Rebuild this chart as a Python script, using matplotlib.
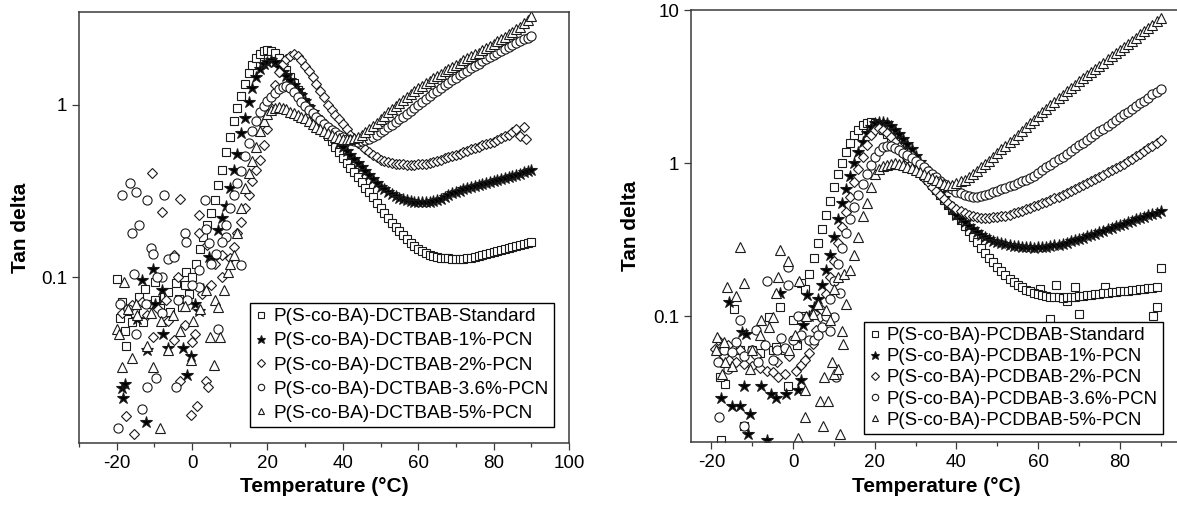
import matplotlib
matplotlib.use("Agg")
import matplotlib.pyplot as plt
from matplotlib.lines import Line2D
from matplotlib.ticker import FixedLocator, NullLocator, FixedFormatter

plt.rcParams['font.family'] = ['Liberation Sans', 'DejaVu Sans']
plt.rcParams['axes.unicode_minus'] = False

# Each series: {temperature (°C): tan delta}.
# ---------------- LEFT PANEL (DCTBAB) ----------------
left_labels = ['P(S-co-BA)-DCTBAB-Standard', 'P(S-co-BA)-DCTBAB-1%-PCN',
               'P(S-co-BA)-DCTBAB-2%-PCN', 'P(S-co-BA)-DCTBAB-3.6%-PCN',
               'P(S-co-BA)-DCTBAB-5%-PCN']

left_std_scatter = {
    -19.9: 0.098, -19.0: 0.058, -18.7: 0.072, -17.7: 0.049, -17.6: 0.040,
    -17.2: 0.064, -16.0: 0.055, -15.2: 0.062, -14.0: 0.077, -13.0: 0.055,
    -12.4: 0.085, -11.0: 0.070, -9.9: 0.094, -9.8: 0.074, -8.5: 0.066,
    -7.4: 0.077, -6.5: 0.082, -5.8: 0.063, -4.3: 0.092, -3.5: 0.075,
    -2.8: 0.067, -2.0: 0.090, -1.5: 0.107, -0.8: 0.080}
left_std_curve = {
    0: 0.100, 1: 0.120, 2: 0.145, 3: 0.170, 4: 0.200, 5: 0.235, 6: 0.280, 7: 0.340, 8: 0.420, 9: 0.530,
    10: 0.650, 11: 0.800, 12: 0.950, 13: 1.120, 14: 1.320, 15: 1.520, 16: 1.700, 17: 1.850, 18: 1.960, 19: 2.030,
    20: 2.060, 21: 2.050, 22: 1.980, 23: 1.850, 24: 1.720, 25: 1.580, 26: 1.450, 27: 1.330, 28: 1.220, 29: 1.120,
    30: 1.030, 31: 0.950, 32: 0.880, 33: 0.820, 34: 0.760, 35: 0.710, 36: 0.660, 37: 0.615, 38: 0.570, 39: 0.530,
    40: 0.490, 41: 0.460, 42: 0.430, 43: 0.405, 44: 0.380, 45: 0.355, 46: 0.330, 47: 0.310, 48: 0.290, 49: 0.270,
    50: 0.250, 51: 0.235, 52: 0.220, 53: 0.207, 54: 0.195, 55: 0.185, 56: 0.175, 57: 0.166, 58: 0.158, 59: 0.152,
    60: 0.146, 61: 0.142, 62: 0.138, 63: 0.135, 64: 0.133, 65: 0.131, 66: 0.130, 67: 0.129, 68: 0.129, 69: 0.128,
    70: 0.128, 71: 0.127, 72: 0.128, 73: 0.129, 74: 0.130, 75: 0.131, 76: 0.133, 77: 0.135, 78: 0.137, 79: 0.138,
    80: 0.140, 81: 0.142, 82: 0.144, 83: 0.146, 84: 0.148, 85: 0.150, 86: 0.152, 87: 0.154, 88: 0.156, 89: 0.158,
    90: 0.160}

left_1_scatter = {
    -18.5: 0.0227, -18.2: 0.020, -17.8: 0.024, -13.4: 0.096, -12.2: 0.0145,
    -10.4: 0.111, -9.9: 0.070, -7.9: 0.084, -7.8: 0.047, -6.4: 0.039,
    -2.3: 0.039, -1.3: 0.027, -0.3: 0.035, 0.8: 0.070, 1.8: 0.064,
    3.0: 0.085, 4.6: 0.131, 5.8: 0.128, -14.5: 0.057, -12.0: 0.038}
left_1_curve = {
    7: 0.187, 8: 0.220, 9: 0.260, 10: 0.330, 11: 0.420, 12: 0.520, 13: 0.680, 14: 0.840, 15: 1.040, 16: 1.250,
    17: 1.450, 18: 1.600, 19: 1.710, 20: 1.770, 21: 1.810, 22: 1.770, 23: 1.660, 24: 1.550, 25: 1.460, 26: 1.380,
    27: 1.290, 28: 1.210, 29: 1.130, 30: 1.050, 31: 0.970, 32: 0.900, 33: 0.850, 34: 0.800, 35: 0.755, 36: 0.710,
    37: 0.670, 38: 0.630, 39: 0.600, 40: 0.570, 41: 0.540, 42: 0.510, 43: 0.485, 44: 0.460, 45: 0.435, 46: 0.410,
    47: 0.390, 48: 0.370, 49: 0.352, 50: 0.335, 51: 0.322, 52: 0.310, 53: 0.302, 54: 0.295, 55: 0.289, 56: 0.283,
    57: 0.279, 58: 0.276, 59: 0.274, 60: 0.273, 61: 0.272, 62: 0.272, 63: 0.274, 64: 0.276, 65: 0.280, 66: 0.285,
    67: 0.292, 68: 0.300, 69: 0.306, 70: 0.312, 71: 0.317, 72: 0.322, 73: 0.327, 74: 0.332, 75: 0.337, 76: 0.342,
    77: 0.346, 78: 0.350, 79: 0.355, 80: 0.360, 81: 0.365, 82: 0.370, 83: 0.375, 84: 0.380, 85: 0.386, 86: 0.392,
    87: 0.398, 88: 0.405, 89: 0.412, 90: 0.420}

left_2_scatter = {
    -10.6: 0.40, -7.9: 0.24, -3.3: 0.285, 1.8: 0.23, -4.8: 0.134, -3.8: 0.10,
    -18.5: 0.062, -10.4: 0.045, -4.7: 0.043, -3.2: 0.025, -0.2: 0.016, 1.3: 0.018,
    3.8: 0.025, 4.3: 0.023, -17.5: 0.0157, -15.5: 0.0123, -6.8: 0.074, -1.8: 0.053,
    0.8: 0.047, 1.9: 0.18, 3.9: 0.153, 7.9: 0.10, -16.0: 0.069, -13.4: 0.072,
    -6.3: 0.056, -0.1: 0.042, -12.0: 0.060, -9.0: 0.065, 2.5: 0.080, 5.0: 0.090,
    6.0: 0.120, 8.0: 0.135}
left_2_curve = {
    10: 0.13, 11: 0.15, 12: 0.18, 13: 0.21, 14: 0.25, 15: 0.30, 16: 0.36, 17: 0.42, 18: 0.48, 19: 0.58,
    20: 0.72, 21: 0.95, 22: 1.30, 23: 1.55, 24: 1.72, 25: 1.84, 26: 1.92, 27: 1.95, 28: 1.90, 29: 1.80,
    30: 1.68, 31: 1.56, 32: 1.44, 33: 1.32, 34: 1.20, 35: 1.10, 36: 1.00, 37: 0.93, 38: 0.87, 39: 0.82,
    40: 0.77, 41: 0.72, 42: 0.67, 43: 0.635, 44: 0.60, 45: 0.575, 46: 0.55, 47: 0.53, 48: 0.51, 49: 0.495,
    50: 0.48, 51: 0.472, 52: 0.465, 53: 0.46, 54: 0.455, 55: 0.452, 56: 0.45, 57: 0.449, 58: 0.448, 59: 0.449,
    60: 0.45, 61: 0.452, 62: 0.455, 63: 0.46, 64: 0.465, 65: 0.472, 66: 0.48, 67: 0.487, 68: 0.495, 69: 0.502,
    70: 0.51, 71: 0.52, 72: 0.53, 73: 0.54, 74: 0.55, 75: 0.56, 76: 0.57, 77: 0.58, 78: 0.59, 79: 0.60,
    80: 0.61, 81: 0.625, 82: 0.64, 83: 0.655, 84: 0.67, 85: 0.69, 86: 0.72, 87: 0.66, 88: 0.74, 88.5: 0.63}

left_36_scatter = {
    -18.5: 0.30, -16.5: 0.35, -15.0: 0.31, -12.0: 0.28, -14.0: 0.20, -16.0: 0.18,
    -7.4: 0.30, -10.9: 0.147, -10.4: 0.137, -15.5: 0.105, -7.9: 0.10, -6.3: 0.128,
    -4.8: 0.131, -1.8: 0.18, -1.7: 0.16, -1.3: 0.074, 1.8: 0.11, 3.3: 0.28,
    3.8: 0.19, 4.6: 0.157, 6.4: 0.137, 8.9: 0.17, 12.9: 0.117, -14.9: 0.047,
    -11.9: 0.023, -9.6: 0.026, -4.3: 0.023, -19.7: 0.0133, -13.4: 0.0173, -12.1: 0.07,
    -9.4: 0.10, -3.8: 0.074, 1.9: 0.088, 7.0: 0.05, -19.0: 0.07, -17.0: 0.065,
    -8.0: 0.062, 0.0: 0.09, 5.0: 0.12}
left_36_curve = {
    8: 0.16, 9: 0.20, 10: 0.25, 11: 0.30, 12: 0.35, 13: 0.41, 14: 0.50, 15: 0.60, 16: 0.70, 17: 0.80,
    18: 0.90, 19: 0.98, 20: 1.05, 21: 1.10, 22: 1.17, 23: 1.23, 24: 1.27, 25: 1.28, 26: 1.25, 27: 1.18,
    28: 1.10, 29: 1.04, 30: 0.98, 31: 0.93, 32: 0.89, 33: 0.85, 34: 0.81, 35: 0.775, 36: 0.74, 37: 0.715,
    38: 0.69, 39: 0.67, 40: 0.65, 41: 0.635, 42: 0.62, 43: 0.613, 44: 0.61, 45: 0.612, 46: 0.62, 47: 0.635,
    48: 0.65, 49: 0.67, 50: 0.69, 51: 0.715, 52: 0.74, 53: 0.765, 54: 0.79, 55: 0.82, 56: 0.85, 57: 0.885,
    58: 0.92, 59: 0.955, 60: 0.99, 61: 1.03, 62: 1.07, 63: 1.115, 64: 1.16, 65: 1.205, 66: 1.25, 67: 1.295,
    68: 1.34, 69: 1.385, 70: 1.43, 71: 1.475, 72: 1.52, 73: 1.57, 74: 1.62, 75: 1.67, 76: 1.72, 77: 1.775,
    78: 1.83, 79: 1.885, 80: 1.94, 81: 1.995, 82: 2.05, 83: 2.105, 84: 2.16, 85: 2.215, 86: 2.27, 87: 2.325,
    88: 2.38, 89: 2.43, 90: 2.48}

left_5_scatter = {
    -18.0: 0.094, -20.0: 0.050, -18.5: 0.030, -16.0: 0.034, -10.4: 0.030, -8.4: 0.0133,
    -14.5: 0.060, -12.0: 0.040, -6.3: 0.038, -0.2: 0.033, 5.9: 0.031, 0.3: 0.056,
    3.8: 0.084, 4.8: 0.045, 6.0: 0.074, 7.4: 0.045, 6.9: 0.067, 8.4: 0.084,
    9.4: 0.107, -19.5: 0.047, -3.3: 0.049, -8.3: 0.056, -17.0: 0.065, -15.0: 0.070,
    -11.0: 0.062, -5.0: 0.060, -2.0: 0.068, 2.0: 0.065}
left_5_curve = {
    10: 0.12, 11: 0.135, 12: 0.18, 13: 0.25, 14: 0.33, 15: 0.40, 16: 0.47, 17: 0.57, 18: 0.70, 19: 0.80,
    20: 0.88, 21: 0.93, 22: 0.96, 23: 0.97, 24: 0.96, 25: 0.94, 26: 0.91, 27: 0.89, 28: 0.87, 29: 0.85,
    30: 0.83, 31: 0.80, 32: 0.77, 33: 0.745, 34: 0.72, 35: 0.70, 36: 0.68, 37: 0.665, 38: 0.65, 39: 0.64,
    40: 0.63, 41: 0.628, 42: 0.63, 43: 0.638, 44: 0.65, 45: 0.668, 46: 0.69, 47: 0.72, 48: 0.75, 49: 0.785,
    50: 0.82, 51: 0.86, 52: 0.90, 53: 0.94, 54: 0.98, 55: 1.02, 56: 1.06, 57: 1.105, 58: 1.15, 59: 1.195,
    60: 1.24, 61: 1.285, 62: 1.33, 63: 1.375, 64: 1.42, 65: 1.465, 66: 1.51, 67: 1.555, 68: 1.60, 69: 1.65,
    70: 1.70, 71: 1.75, 72: 1.80, 73: 1.85, 74: 1.90, 75: 1.95, 76: 2.00, 77: 2.06, 78: 2.12, 79: 2.185,
    80: 2.25, 81: 2.32, 82: 2.40, 83: 2.47, 84: 2.55, 85: 2.63, 86: 2.72, 87: 2.83, 88: 2.95, 89: 3.10,
    90: 3.25}

# ---------------- RIGHT PANEL (PCDBAB) ----------------
right_labels = ['P(S-co-BA)-PCDBAB-Standard', 'P(S-co-BA)-PCDBAB-1%-PCN',
                'P(S-co-BA)-PCDBAB-2%-PCN', 'P(S-co-BA)-PCDBAB-3.6%-PCN',
                'P(S-co-BA)-PCDBAB-5%-PCN']

right_std_scatter = {
    -17.7: 0.0155, -16.7: 0.036, -14.4: 0.112, -12.0: 0.019, -18.0: 0.040, -16.0: 0.050,
    -13.0: 0.060, -10.0: 0.060, -8.0: 0.057, -6.0: 0.099, -5.0: 0.060, -4.1: 0.063,
    -3.1: 0.115, -2.0: 0.060, -1.3: 0.035, 0.1: 0.095, 1.0: 0.065, 2.0: 0.164,
    2.5: 0.100, 63.0: 0.096, 70.0: 0.104, 88.1: 0.100, 89.1: 0.115, 90.0: 0.205,
    64.3: 0.160, 69.0: 0.155, 76.4: 0.156, 60.5: 0.150, 67.0: 0.125}
right_std_curve = {
    3: 0.15, 4: 0.19, 5: 0.24, 6: 0.30, 7: 0.37, 8: 0.46, 9: 0.57, 10: 0.70, 11: 0.85, 12: 1.00,
    13: 1.18, 14: 1.36, 15: 1.52, 16: 1.66, 17: 1.77, 18: 1.83, 19: 1.85, 20: 1.82, 21: 1.75, 22: 1.66,
    23: 1.56, 24: 1.47, 25: 1.37, 26: 1.28, 27: 1.19, 28: 1.10, 29: 1.02, 30: 0.95, 31: 0.89, 32: 0.83,
    33: 0.775, 34: 0.72, 35: 0.67, 36: 0.62, 37: 0.575, 38: 0.53, 39: 0.495, 40: 0.46, 41: 0.425, 42: 0.39,
    43: 0.36, 44: 0.33, 45: 0.305, 46: 0.28, 47: 0.26, 48: 0.24, 49: 0.225, 50: 0.21, 51: 0.197, 52: 0.185,
    53: 0.176, 54: 0.167, 55: 0.16, 56: 0.154, 57: 0.149, 58: 0.145, 59: 0.142, 60: 0.14, 61: 0.138, 62: 0.136,
    63: 0.134, 64: 0.133, 65: 0.133, 66: 0.132, 67: 0.133, 68: 0.134, 69: 0.134, 70: 0.135, 71: 0.136, 72: 0.137,
    73: 0.138, 74: 0.139, 75: 0.14, 76: 0.141, 77: 0.142, 78: 0.143, 79: 0.144, 80: 0.145, 81: 0.146, 82: 0.147,
    83: 0.148, 84: 0.149, 85: 0.15, 86: 0.151, 87: 0.152, 88: 0.153, 89: 0.154}

right_1_scatter = {
    -15.8: 0.124, -12.5: 0.079, -11.6: 0.077, -17.7: 0.029, -14.9: 0.026, -13.0: 0.026,
    -10.6: 0.023, -11.1: 0.017, -6.4: 0.0155, -12.0: 0.035, -7.8: 0.035, -5.5: 0.031,
    -4.1: 0.029, -1.7: 0.031, 1.1: 0.033, 2.0: 0.038, -3.1: 0.141, 0.6: 0.072,
    2.5: 0.087, 3.4: 0.137}
right_1_curve = {
    4: 0.10, 5: 0.115, 6: 0.13, 7: 0.16, 8: 0.20, 9: 0.25, 10: 0.33, 11: 0.43, 12: 0.55, 13: 0.68,
    14: 0.82, 15: 1.00, 16: 1.18, 17: 1.38, 18: 1.58, 19: 1.73, 20: 1.82, 21: 1.86, 22: 1.86, 23: 1.82,
    24: 1.75, 25: 1.66, 26: 1.56, 27: 1.45, 28: 1.34, 29: 1.23, 30: 1.12, 31: 1.02, 32: 0.93, 33: 0.85,
    34: 0.77, 35: 0.70, 36: 0.64, 37: 0.59, 38: 0.54, 39: 0.50, 40: 0.46, 41: 0.435, 42: 0.41, 43: 0.39,
    44: 0.37, 45: 0.355, 46: 0.34, 47: 0.33, 48: 0.32, 49: 0.312, 50: 0.305, 51: 0.30, 52: 0.295, 53: 0.291,
    54: 0.288, 55: 0.286, 56: 0.284, 57: 0.283, 58: 0.282, 59: 0.281, 60: 0.282, 61: 0.283, 62: 0.284, 63: 0.287,
    64: 0.29, 65: 0.294, 66: 0.298, 67: 0.303, 68: 0.308, 69: 0.314, 70: 0.32, 71: 0.326, 72: 0.333, 73: 0.34,
    74: 0.347, 75: 0.354, 76: 0.362, 77: 0.37, 78: 0.378, 79: 0.386, 80: 0.395, 81: 0.403, 82: 0.412, 83: 0.421,
    84: 0.43, 85: 0.439, 86: 0.448, 87: 0.457, 88: 0.466, 89: 0.475, 90: 0.485}

right_2_scatter = {
    -19.1: 0.061, -18.5: 0.070, -18.0: 0.058, -17.0: 0.055, -16.0: 0.065, -15.8: 0.052,
    -14.0: 0.050, -13.0: 0.060, -12.0: 0.049, -10.0: 0.047, -9.0: 0.055, -8.0: 0.046,
    -6.4: 0.044, -5.0: 0.043, -4.0: 0.050, -3.6: 0.040, -2.0: 0.042, -1.0: 0.055,
    0.6: 0.044, 2.0: 0.048, 2.9: 0.052, 3.9: 0.057, 4.8: 0.066, 5.7: 0.081, 6.7: 0.099}
right_2_curve = {
    7: 0.11, 8: 0.14, 9: 0.18, 10: 0.23, 11: 0.30, 12: 0.38, 13: 0.48, 14: 0.60, 15: 0.75, 16: 0.92,
    17: 1.10, 18: 1.32, 19: 1.52, 20: 1.65, 21: 1.70, 22: 1.66, 23: 1.58, 24: 1.48, 25: 1.38, 26: 1.27,
    27: 1.17, 28: 1.08, 29: 1.00, 30: 0.92, 31: 0.86, 32: 0.80, 33: 0.75, 34: 0.70, 35: 0.66, 36: 0.62,
    37: 0.585, 38: 0.55, 39: 0.525, 40: 0.50, 41: 0.485, 42: 0.47, 43: 0.46, 44: 0.45, 45: 0.445, 46: 0.44,
    47: 0.439, 48: 0.44, 49: 0.442, 50: 0.445, 51: 0.45, 52: 0.455, 53: 0.462, 54: 0.47, 55: 0.48, 56: 0.49,
    57: 0.50, 58: 0.51, 59: 0.522, 60: 0.535, 61: 0.547, 62: 0.56, 63: 0.575, 64: 0.59, 65: 0.605, 66: 0.62,
    67: 0.64, 68: 0.66, 69: 0.68, 70: 0.70, 71: 0.72, 72: 0.74, 73: 0.765, 74: 0.79, 75: 0.815, 76: 0.84,
    77: 0.87, 78: 0.90, 79: 0.93, 80: 0.96, 81: 0.995, 82: 1.03, 83: 1.07, 84: 1.11, 85: 1.155, 86: 1.20,
    87: 1.25, 88: 1.30, 89: 1.36, 90: 1.42}

right_36_scatter = {
    -18.1: 0.022, -13.0: 0.094, -6.4: 0.170, -1.3: 0.210, -1.2: 0.160, 1.1: 0.100,
    -12.0: 0.019, -9.2: 0.081, -17.0: 0.060, -15.0: 0.058, -11.9: 0.055, -10.0: 0.060,
    -7.0: 0.065, -4.0: 0.060, -2.0: 0.062, 0.0: 0.070, 2.0: 0.075, 4.0: 0.070,
    -16.0: 0.045, -8.5: 0.050, -5.0: 0.052, 10.0: 0.099, 11.4: 0.141, 10.4: 0.040,
    9.0: 0.080, -18.5: 0.050, -14.0: 0.068, -3.0: 0.072}
right_36_curve = {
    5: 0.07, 6: 0.075, 7: 0.085, 8: 0.10, 9: 0.13, 10: 0.17, 11: 0.22, 12: 0.28, 13: 0.35, 14: 0.43,
    15: 0.52, 16: 0.62, 17: 0.73, 18: 0.85, 19: 0.98, 20: 1.10, 21: 1.20, 22: 1.27, 23: 1.30, 24: 1.29,
    25: 1.26, 26: 1.22, 27: 1.175, 28: 1.13, 29: 1.08, 30: 1.03, 31: 0.985, 32: 0.94, 33: 0.895, 34: 0.85,
    35: 0.81, 36: 0.77, 37: 0.735, 38: 0.70, 39: 0.675, 40: 0.65, 41: 0.635, 42: 0.62, 43: 0.61, 44: 0.60,
    45: 0.598, 46: 0.61, 47: 0.62, 48: 0.63, 49: 0.645, 50: 0.66, 51: 0.675, 52: 0.69, 53: 0.705, 54: 0.72,
    55: 0.74, 56: 0.76, 57: 0.78, 58: 0.80, 59: 0.83, 60: 0.86, 61: 0.90, 62: 0.94, 63: 0.98, 64: 1.02,
    65: 1.06, 66: 1.10, 67: 1.15, 68: 1.20, 69: 1.255, 70: 1.31, 71: 1.365, 72: 1.42, 73: 1.485, 74: 1.55,
    75: 1.615, 76: 1.68, 77: 1.76, 78: 1.84, 79: 1.92, 80: 2.00, 81: 2.085, 82: 2.17, 83: 2.26, 84: 2.35,
    85: 2.46, 86: 2.57, 87: 2.69, 88: 2.82, 89: 2.93, 90: 3.05}

right_5_scatter = {
    -13.0: 0.285, -16.3: 0.155, -12.0: 0.165, -14.0: 0.135, -18.6: 0.073, -14.9: 0.047,
    -7.8: 0.094, -3.1: 0.270, -1.3: 0.230, -3.6: 0.180, -4.1: 0.141, 1.5: 0.170,
    4.8: 0.104, 12.3: 0.066, 7.6: 0.040, 6.7: 0.028, 2.9: 0.022, 7.3: 0.019,
    11.4: 0.017, 1.1: 0.016, 3.0: 0.033, -16.7: 0.050, -18.8: 0.060, -17.0: 0.068,
    -10.0: 0.060, -8.0: 0.075, -6.0: 0.085, -5.0: 0.098, -1.0: 0.060, 0.5: 0.075,
    3.2: 0.100, 6.0: 0.120, 8.0: 0.110, 9.0: 0.095, 10.0: 0.042, 11.0: 0.045,
    12.0: 0.080, 13.0: 0.120, -17.5: 0.042, -10.5: 0.045, 8.5: 0.028, 9.5: 0.050,
    11.1: 0.180, 12.5: 0.190, 10.1: 0.150}
right_5_curve = {
    14: 0.20, 15: 0.25, 16: 0.33, 17: 0.45, 18: 0.55, 19: 0.70, 20: 0.85, 21: 0.92, 22: 0.96, 23: 0.98,
    24: 0.99, 25: 1.00, 26: 0.99, 27: 0.97, 28: 0.95, 29: 0.925, 30: 0.90, 31: 0.875, 32: 0.85, 33: 0.825,
    34: 0.80, 35: 0.775, 36: 0.75, 37: 0.735, 38: 0.72, 39: 0.725, 40: 0.74, 41: 0.76, 42: 0.78, 43: 0.815,
    44: 0.85, 45: 0.895, 46: 0.94, 47: 0.99, 48: 1.04, 49: 1.10, 50: 1.16, 51: 1.23, 52: 1.30, 53: 1.375,
    54: 1.45, 55: 1.535, 56: 1.62, 57: 1.72, 58: 1.82, 59: 1.93, 60: 2.04, 61: 2.15, 62: 2.27, 63: 2.39,
    64: 2.52, 65: 2.66, 66: 2.80, 67: 2.95, 68: 3.10, 69: 3.27, 70: 3.45, 71: 3.62, 72: 3.80, 73: 3.97,
    74: 4.15, 75: 4.35, 76: 4.55, 77: 4.77, 78: 5.00, 79: 5.25, 80: 5.50, 81: 5.75, 82: 6.00, 83: 6.30,
    84: 6.60, 85: 6.95, 86: 7.30, 87: 7.65, 88: 8.00, 89: 8.45, 90: 8.90}

# ---------------- styling ----------------
markers = ['s', '*', 'D', 'o', '^']
msizes = [6.0, 9.0, 5.6, 6.6, 7.0]
facecols = ['white', 'black', 'white', 'white', 'white']
EDGE = '#1a1a1a'
SPINE = '#3a3a3a'


def xy(*parts):
    T, y = [], []
    for d in parts:
        T += list(d.keys())
        y += list(d.values())
    return T, y


left_series = [
    xy(left_std_scatter, left_std_curve),
    xy(left_1_scatter, left_1_curve),
    xy(left_2_scatter, left_2_curve),
    xy(left_36_scatter, left_36_curve),
    xy(left_5_scatter, left_5_curve),
]
right_series = [
    xy(right_std_scatter, right_std_curve),
    xy(right_1_scatter, right_1_curve),
    xy(right_2_scatter, right_2_curve),
    xy(right_36_scatter, right_36_curve),
    xy(right_5_scatter, right_5_curve),
]

W, H = 1177, 509
fig = plt.figure(figsize=(W / 100, H / 100), dpi=100)
ax1 = fig.add_axes([79 / W, 1 - 442.7 / H, 490 / W, 430.4 / H])
ax2 = fig.add_axes([691 / W, 1 - 441.7 / H, 490 / W, 431.4 / H])


def draw(ax, series):
    for (T, y), m, ms, fc in zip(series, markers, msizes, facecols):
        ax.plot(T, y, linestyle='none', marker=m, ms=ms, mfc=fc, mec=EDGE,
                mew=0.8)


draw(ax1, left_series)
draw(ax2, right_series)

for ax in (ax1, ax2):
    ax.set_yscale('log')
    for s in ax.spines.values():
        s.set_color(SPINE)
        s.set_linewidth(1.1)
    ax.tick_params(which='both', direction='out', colors=SPINE, labelcolor='black',
                   labelsize=13.5, width=0.9)
    ax.tick_params(which='major', length=5)
    ax.tick_params(which='minor', length=3)
    ax.yaxis.set_minor_locator(NullLocator())

ax1.set_xlim(-30, 100)
ax1.set_ylim(0.011, 3.42)
ax1.xaxis.set_major_locator(FixedLocator([-20, 0, 20, 40, 60, 80, 100]))
ax1.xaxis.set_minor_locator(FixedLocator([-30, -10, 10, 30, 50, 70, 90]))
ax1.yaxis.set_major_locator(FixedLocator([0.1, 1]))
ax1.yaxis.set_major_formatter(FixedFormatter(['0.1', '1']))

ax2.set_xlim(-25, 95)
ax2.set_ylim(0.0151, 10)
ax2.xaxis.set_major_locator(FixedLocator([-20, 0, 20, 40, 60, 80]))
ax2.xaxis.set_minor_locator(FixedLocator([-10, 10, 30, 50, 70, 90]))
ax2.yaxis.set_major_locator(FixedLocator([0.1, 1, 10]))
ax2.yaxis.set_major_formatter(FixedFormatter(['0.1', '1', '10']))


def handles():
    return [Line2D([], [], linestyle='none', marker=m, ms=ms * 0.7, mfc=fc,
                   mec=EDGE, mew=0.8) for m, ms, fc in zip(markers, msizes, facecols)]


leg1 = ax1.legend(handles(), left_labels, loc='lower right',
                  bbox_to_anchor=(0.969, 0.036), borderaxespad=0, fontsize=13.7,
                  frameon=True, fancybox=False, framealpha=1, edgecolor='black',
                  handlelength=0.6, handletextpad=0.35, borderpad=0.28,
                  labelspacing=0.36)
leg1.get_frame().set_linewidth(1.0)
leg2 = ax2.legend(handles(), right_labels, loc='lower right',
                  bbox_to_anchor=(0.963, 0.018), borderaxespad=0, fontsize=13.4,
                  frameon=True, fancybox=False, framealpha=1, edgecolor='black',
                  handlelength=0.6, handletextpad=0.35, borderpad=0.28,
                  labelspacing=0.22)
leg2.get_frame().set_linewidth(1.0)

lab = dict(fontsize=15, fontweight='bold', ha='center', va='center')
fig.text(21 / W, 1 - 227.5 / H, 'Tan delta', rotation=90, **lab)
fig.text(630 / W, 1 - 226 / H, 'Tan delta', rotation=90, **lab)
fig.text(324 / W, 1 - 486 / H, 'Temperature (°C)', **lab)
fig.text(936 / W, 1 - 486 / H, 'Temperature (°C)', **lab)

fig.savefig('out.png', dpi=100)
